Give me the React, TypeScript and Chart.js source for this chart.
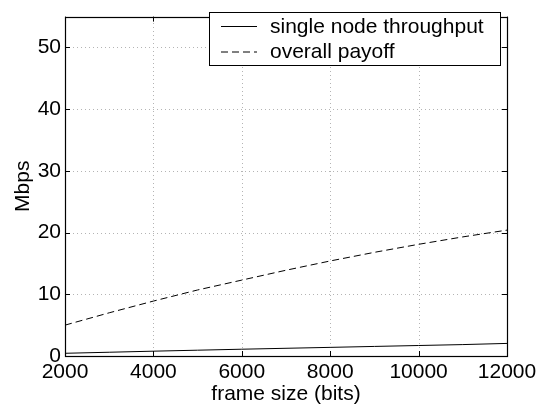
import React, { useEffect, useRef } from "react";
import { Chart, registerables } from "chart.js";

Chart.register(...registerables);

const frameSizes = [2000, 3000, 4000, 5000, 6000, 7000, 8000, 9000, 10000, 11000, 12000];
const singleNodeThroughput = [0.44, 0.61, 0.78, 0.94, 1.1, 1.25, 1.4, 1.55, 1.7, 1.85, 2.04];
const overallPayoff = [5.0, 7.0, 8.9, 10.7, 12.3, 13.9, 15.4, 16.8, 18.1, 19.3, 20.4];
const seriesLabels = ["single node throughput", "overall payoff"];
const xTitle = "frame size (bits)";
const yTitle = "Mbps";

const FONT = '"Liberation Sans", Arial, Helvetica, sans-serif';

const gridPlugin = {
  id: "dottedGrid",
  beforeDatasetsDraw(chart: any) {
    const { ctx, chartArea: a, scales } = chart;
    ctx.save();
    ctx.strokeStyle = "#b4b4b4";
    ctx.lineWidth = 1;
    ctx.setLineDash([1, 3]);
    ctx.beginPath();
    scales.x.ticks.forEach((t: any) => {
      const px = Math.round(scales.x.getPixelForValue(t.value)) + 0.5;
      ctx.moveTo(px, a.bottom);
      ctx.lineTo(px, a.top);
    });
    scales.y.ticks.forEach((t: any) => {
      const py = Math.round(scales.y.getPixelForValue(t.value)) + 0.5;
      ctx.moveTo(a.left, py);
      ctx.lineTo(a.right, py);
    });
    ctx.stroke();
    ctx.restore();
  },
};

const frameBoxPlugin = {
  id: "frameBox",
  afterDatasetsDraw(chart: any) {
    const { ctx, chartArea: a, scales } = chart;
    ctx.save();
    ctx.strokeStyle = "#000";
    ctx.lineWidth = 1;
    const tl = 5;
    ctx.beginPath();
    scales.x.ticks.forEach((t: any) => {
      const px = Math.round(scales.x.getPixelForValue(t.value)) + 0.5;
      ctx.moveTo(px, a.bottom);
      ctx.lineTo(px, a.bottom - tl);
      ctx.moveTo(px, a.top);
      ctx.lineTo(px, a.top + tl);
    });
    scales.y.ticks.forEach((t: any) => {
      const py = Math.round(scales.y.getPixelForValue(t.value)) + 0.5;
      ctx.moveTo(a.left, py);
      ctx.lineTo(a.left + tl, py);
      ctx.moveTo(a.right, py);
      ctx.lineTo(a.right - tl, py);
    });
    ctx.stroke();
    ctx.lineWidth = 1.2;
    ctx.strokeRect(Math.round(a.left) + 0.5, Math.round(a.top) + 0.5, Math.round(a.right - a.left), Math.round(a.bottom - a.top));

    // legend
    const lx = 209.5, ly = 12.5, lw = 291, lh = 53;
    ctx.fillStyle = "#fff";
    ctx.fillRect(lx, ly, lw, lh);
    ctx.lineWidth = 1;
    ctx.strokeStyle = "#000";
    ctx.strokeRect(lx, ly, lw, lh);
    const rows = [26, 51.5];
    chart.data.datasets.forEach((ds: any, i: number) => {
      ctx.save();
      ctx.strokeStyle = "#000";
      ctx.lineWidth = 1;
      ctx.setLineDash(ds.borderDash || []);
      ctx.beginPath();
      ctx.moveTo(221, rows[i] + 0.5);
      ctx.lineTo(257, rows[i] + 0.5);
      ctx.stroke();
      ctx.restore();
      ctx.fillStyle = "#000";
      ctx.font = `21px ${FONT}`;
      ctx.textAlign = "left";
      ctx.textBaseline = "middle";
      ctx.fillText(ds.label, 270, rows[i] + 1);
    });
    ctx.restore();
  },
};

export default function App() {
  const ref = useRef<HTMLCanvasElement>(null);
  useEffect(() => {
    if (!ref.current) return;
    const chart = new Chart(ref.current, {
      type: "line",
      data: {
        datasets: [
          {
            label: seriesLabels[0],
            data: frameSizes.map((x, i) => ({ x, y: singleNodeThroughput[i] })),
            borderColor: "#000",
            borderWidth: 1,
            pointRadius: 0,
            tension: 0,
            fill: false,
          },
          {
            label: seriesLabels[1],
            data: frameSizes.map((x, i) => ({ x, y: overallPayoff[i] })),
            borderColor: "#000",
            borderWidth: 1,
            borderDash: [7, 4],
            pointRadius: 0,
            tension: 0,
            fill: false,
          },
        ],
      },
      options: {
        animation: false,
        responsive: false,
        events: [],
        layout: { padding: { left: 0, right: 45, top: 6, bottom: 0 } },
        plugins: { legend: { display: false }, tooltip: { enabled: false } },
        scales: {
          x: {
            type: "linear",
            min: 2000,
            max: 12000,
            afterFit: (s: any) => { s.height = 53; },
            ticks: {
              stepSize: 2000,
              color: "#000",
              padding: 4,
              font: { family: FONT, size: 21 },
              maxRotation: 0,
              callback: (v: any) => String(v),
            },
            grid: { display: false, drawTicks: false },
            border: { display: false },
            title: { display: true, text: xTitle, color: "#000", font: { family: FONT, size: 21, lineHeight: 1 }, padding: { top: 0, bottom: 4 } },
          },
          y: {
            type: "linear",
            min: 0,
            max: 55,
            afterFit: (s: any) => { s.width = 65; },
            ticks: {
              stepSize: 10,
              includeBounds: false,
              color: "#000",
              padding: 4,
              font: { family: FONT, size: 21 },
              callback: (v: any) => String(v),
            },
            grid: { display: false, drawTicks: false },
            border: { display: false },
            title: { display: true, text: yTitle, color: "#000", font: { family: FONT, size: 21, lineHeight: 1 }, padding: { top: 12.5, bottom: 0 } },
          },
        },
      },
      plugins: [gridPlugin, frameBoxPlugin],
    });
    return () => chart.destroy();
  }, []);
  return (
    <canvas
      ref={ref}
      width={552}
      height={409}
      style={{ position: "absolute", left: 0, top: 0, width: 552, height: 409, background: "#fff" }}
    />
  );
}
